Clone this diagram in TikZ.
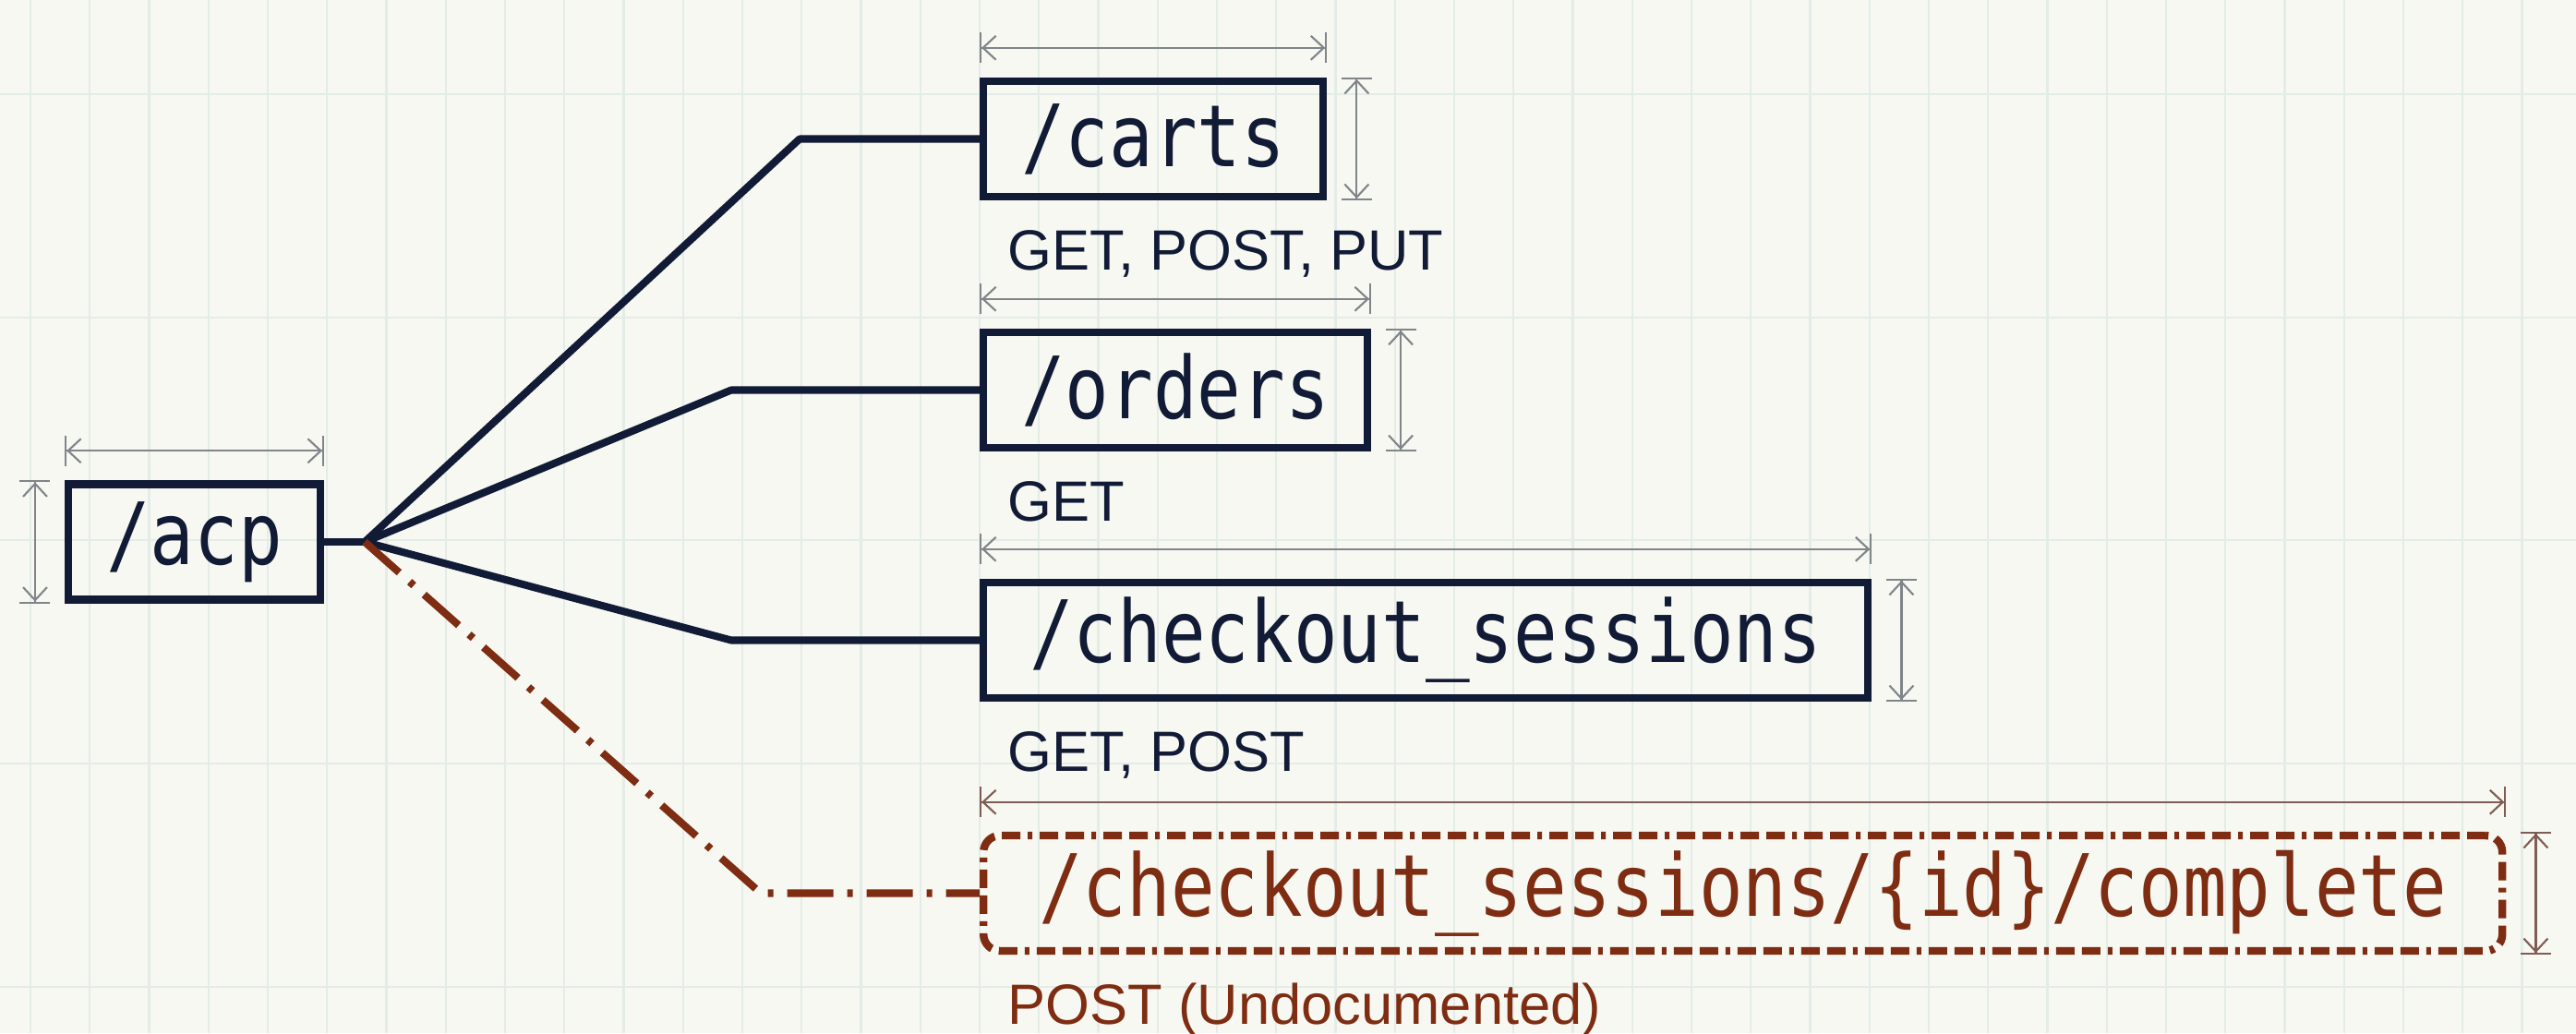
\documentclass[tikz,border=0pt]{standalone}
\usepackage{fontspec}
\usetikzlibrary{positioning,arrows.meta}
\newfontfamily\pathfont[FakeStretch=0.85]{DejaVu Sans Mono}
\newfontfamily\methfont{Liberation Sans}
\definecolor{navy}{HTML}{121B36}
\definecolor{rust}{HTML}{7E2C12}
\definecolor{paper}{HTML}{F7F8F2}
\definecolor{gridc}{HTML}{E4ECE8}
\definecolor{dimc}{HTML}{80858A}
\colorlet{dimr}{rust!45!dimc}

\begin{document}
\begin{tikzpicture}[
    endpoint/.style={draw=navy, line width=2.4pt, text=navy, anchor=west,
      font=\pathfont\fontsize{26.5}{30}\selectfont,
      minimum height=1.25cm, inner xsep=0.41cm},
    undoc/.style={endpoint, draw=rust, text=rust, rounded corners=0.18cm,
      dash pattern=on 0.2cm off 0.08cm on 0.2cm off 0.08cm on 0.05cm off 0.08cm},
    verbs/.style={font=\methfont\fontsize{17.5}{21}\selectfont, text=navy, inner sep=0pt},
    link/.style={navy, line width=2.3pt, line join=round},
    deadlink/.style={rust, line width=2.3pt, line join=round,
      dash pattern=on 0.5cm off 0.15cm on 0.06cm off 0.15cm},
    dim/.style={dimc, line width=0.6pt,
      {Bar[width=0.33cm]Straight Barb[length=0.14cm,width=0.26cm]}-{Straight Barb[length=0.14cm,width=0.26cm]Bar[width=0.33cm]}},
    gridline/.style={gridc, line width=0.6pt}
  ]
      % paper and grid
      \useasboundingbox (0,0) rectangle (27.9,-11.19);
      \fill[paper] (0,0) rectangle (27.9,-11.19);
      \foreach \x in {0,...,42} {%
        \draw[gridline] ({0.33+0.6425*\x},0) -- ++(0,-11.19);
      }
      \foreach \y in {0,...,4} {%
        \draw[gridline] (0,{-1.02-2.417*\y}) -- ++(27.9,0);
      }

      % endpoints
      \node[endpoint] (acp) at (0.7,-5.87) {/acp};
      \node[endpoint] (carts) at (10.61,-1.505) {/carts};
      \node[endpoint] (orders) at (10.61,-4.225) {/orders};
      \node[endpoint, minimum width=9.58cm] (sessions) at (10.61,-6.935) {/checkout\_sessions};
      \node[undoc, minimum width=16.45cm] (complete) at (10.61,-9.675) {/checkout\_sessions/\{id\}/complete};

      % methods
      \node[verbs, below right=0.32cm and 0.3cm of carts.south west] (cartsverbs) {GET, POST, PUT};
      \node[verbs, below right=0.32cm and 0.3cm of orders.south west] (ordersverbs) {GET};
      \node[verbs, below right=0.32cm and 0.3cm of sessions.south west] (sessionsverbs) {GET, POST};
      \node[verbs, text=rust, below right=0.3cm and 0.3cm of complete.south west] (completeverbs) {POST (Undocumented)};

      % connectors
      \coordinate (hub) at (3.95,-5.87);
      \draw[link] (acp.east) -- (hub);
      \draw[link] (hub) -- (8.66,0 |- carts.west) -- (carts.west);
      \draw[link] (hub) -- (7.92,0 |- orders.west) -- (orders.west);
      \draw[link] (hub) -- (7.92,0 |- sessions.west) -- (sessions.west);
      \draw[deadlink] (hub) -- (8.24,0 |- complete.west) -- (complete.west);

      % dimension lines
      \draw[dim] ([yshift=0.32cm]acp.north west) -- ([yshift=0.32cm]acp.north east);
      \draw[dim] ([xshift=-0.32cm]acp.north west) -- ([xshift=-0.32cm]acp.south west);
      \foreach \n in {carts,orders,sessions} {%
        \draw[dim] ([yshift=0.32cm]\n.north west) -- ([yshift=0.32cm]\n.north east);
        \draw[dim] ([xshift=0.32cm]\n.north east) -- ([xshift=0.32cm]\n.south east);
      }
      \draw[dim, dimr] ([yshift=0.32cm]complete.north west) -- ([yshift=0.32cm]complete.north east);
      \draw[dim, dimr] ([xshift=0.32cm]complete.north east) -- ([xshift=0.32cm]complete.south east);
\end{tikzpicture}
\end{document}
